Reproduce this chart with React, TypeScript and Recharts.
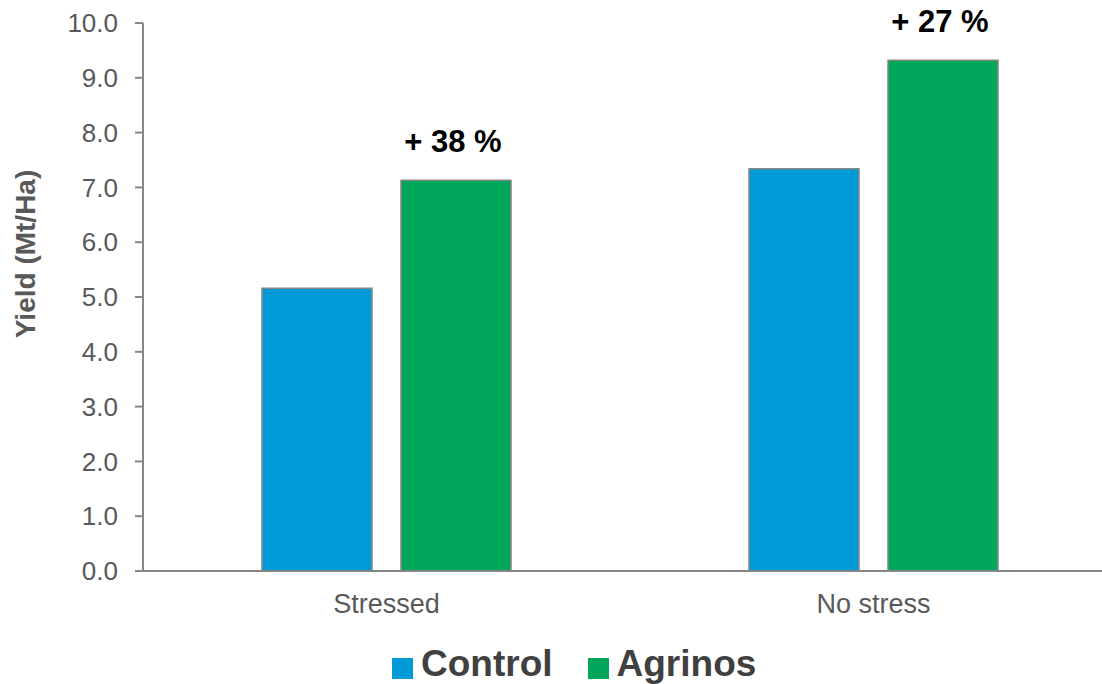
import React from "react";
import {
  BarChart, Bar, XAxis, YAxis, Legend, LabelList, Label,
} from "recharts";

// values
const categories = ["Stressed", "No stress"];
const control = [5.16, 7.34];
const agrinos = [7.13, 9.32];
const gains = ["+ 38 %", "+ 27 %"];
const yTicks = [0, 1, 2, 3, 4, 5, 6, 7, 8, 9, 10];

const data = categories.map((name, i) => ({
  name, Control: control[i], Agrinos: agrinos[i], gain: gains[i],
}));

const FONT = '"Liberation Sans", Arial, sans-serif';
const AXIS = "#868686";
const BLUE = "#009AD6";
const GREEN = "#00A65A";

const GainLabel = (props: any) => {
  const { x, y, width, index } = props;
  return (
    <text
      x={x + width / 2 - 3}
      y={y - 28}
      textAnchor="middle"
      fontFamily={FONT}
      fontWeight="bold"
      fontSize={31}
      fill="#000"
    >
      {gains[index]}
    </text>
  );
};

const YTitle = () => (
  <text
    x={35}
    y={254}
    transform="rotate(-90 35 254)"
    textAnchor="middle"
    fontFamily={FONT}
    fontWeight="bold"
    fontSize={28}
    fill="#595959"
  >
    Yield (Mt/Ha)
  </text>
);

const LegendBox = () => (
  <div
    style={{
      width: 1130, height: 40, display: "flex", alignItems: "center",
      paddingLeft: 392, boxSizing: "border-box", fontFamily: FONT,
      fontWeight: "bold", fontSize: 37, color: "#404040",
    }}
  >
    {[["Control", BLUE], ["Agrinos", GREEN]].map(([name, c], i) => (
      <div key={name} style={{ display: "flex", alignItems: "center", marginLeft: i ? 35 : 0 }}>
        <span style={{ width: 21, height: 21, background: c, marginRight: 8, marginTop: 8 }} />
        <span>{name}</span>
      </div>
    ))}
  </div>
);

export default function App() {
  return (
    <div style={{ position: "fixed", left: 0, top: 0, width: 1102, height: 684, overflow: "hidden", background: "#fff" }}>
      <BarChart
        width={1130}
        height={684}
        data={data}
        margin={{ top: 23, right: 13, bottom: 0, left: 0 }}
        barSize={110}
        barGap={29}
      >
        <XAxis
          dataKey="name"
          axisLine={{ stroke: AXIS, strokeWidth: 2 }}
          tickLine={false}
          tickSize={0}
          tickMargin={23}
          height={73}
          tick={{ fill: "#595959", fontSize: 27, fontFamily: FONT }}
        />
        <YAxis
          domain={[0, 10]}
          ticks={yTicks}
          width={143}
          interval={0}
          tickFormatter={(v: number) => v.toFixed(1)}
          axisLine={{ stroke: AXIS, strokeWidth: 2 }}
          tickLine={{ stroke: AXIS, strokeWidth: 2 }}
          tickSize={8}
          tickMargin={17}
          tick={{ fill: "#595959", fontSize: 26, fontFamily: FONT }}
        >
          <Label content={<YTitle />} />
        </YAxis>
        <Legend
          verticalAlign="bottom"
          align="left"
          wrapperStyle={{ left: 0, width: 1130 }}
          content={<LegendBox />}
        />
        <Bar dataKey="Control" fill={BLUE} stroke={AXIS} strokeWidth={1.5} isAnimationActive={false} />
        <Bar dataKey="Agrinos" fill={GREEN} stroke={AXIS} strokeWidth={1.5} isAnimationActive={false}>
          <LabelList dataKey="gain" content={<GainLabel />} />
        </Bar>
      </BarChart>
    </div>
  );
}
